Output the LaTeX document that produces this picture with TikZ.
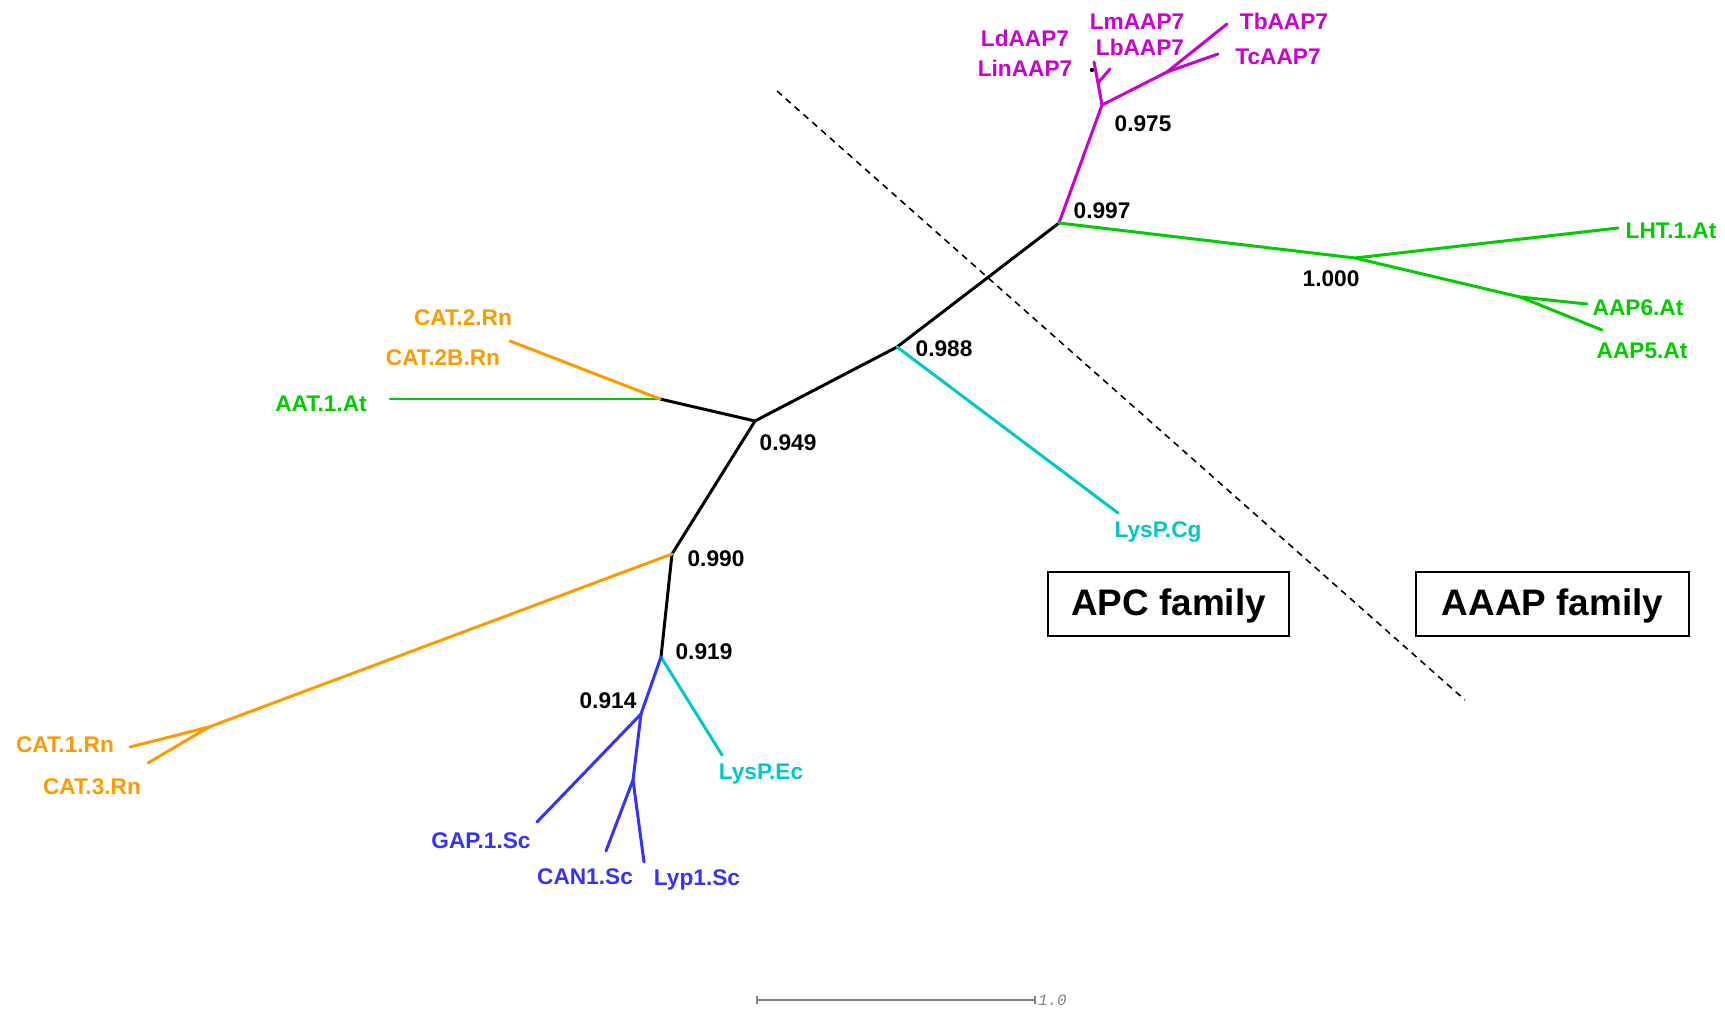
\documentclass[tikz,border=0pt]{standalone}
\usepackage{fontspec}
\setmainfont{Liberation Sans}
\setmonofont{Liberation Mono}
\definecolor{treeorange}{RGB}{255,153,0}
\definecolor{treegreen}{RGB}{0,204,0}
\definecolor{treemagenta}{RGB}{204,0,204}
\definecolor{treeblue}{RGB}{51,51,255}
\definecolor{treecyan}{RGB}{0,200,200}
\begin{document}
\begin{tikzpicture}[x=0.02cm, y=-0.02cm,
  line width=1.7pt, line cap=round,
  lbl/.style={inner sep=0pt, font=\fontsize{12.9}{14}\selectfont\bfseries},
  val/.style={lbl, text=black},
  fam/.style={draw, line width=1.1pt, minimum height=1.28cm,
    font=\fontsize{21}{24}\selectfont\bfseries}]
\useasboundingbox (0,0) rectangle (1725,1010);
% inner nodes
\coordinate (n997) at (1059,223);
\coordinate (n975) at (1102,105);
\coordinate (nLd) at (1098,83);
\coordinate (nTb) at (1167,72);
\coordinate (n1000) at (1355,258);
\coordinate (nAAP) at (1520,297);
\coordinate (n988) at (897,347);
\coordinate (n949) at (755,421);
\coordinate (nAAT) at (660,399);
\coordinate (n990) at (672,554);
\coordinate (nCAT) at (209,727);
\coordinate (n919) at (661,657);
\coordinate (n914) at (641,714);
\coordinate (nCAN) at (633,780);
% tips
\coordinate (tLd) at (1094,62);
\coordinate (tLm) at (1110,69);
\coordinate (tTb) at (1227,24);
\coordinate (tTc) at (1218,54);
\coordinate (tLHT) at (1618,228);
\coordinate (tAAP6) at (1587,304);
\coordinate (tAAP5) at (1602,330);
\coordinate (tCg) at (1118,513);
\coordinate (tAAT) at (390,399);
\coordinate (tCAT2) at (510,341);
\coordinate (tCAT1) at (130,747);
\coordinate (tCAT3) at (148,763);
\coordinate (tEc) at (722,755);
\coordinate (tGAP) at (537,822);
\coordinate (tCAN) at (606,851);
\coordinate (tLyp) at (644,862);

% branches
\draw (n997) -- (n988) -- (n949) -- (nAAT);
\draw (n949) -- (n990) -- (n919);
\draw[treemagenta] (n997) -- (n975) -- (nLd) -- (tLd);
\draw[treemagenta] (nLd) -- (tLm);
\draw[treemagenta] (n975) -- (nTb) -- (tTb);
\draw[treemagenta] (nTb) -- (tTc);
\fill (1092,70) circle (2.2);
\draw[treegreen] (n997) -- (n1000) -- (tLHT);
\draw[treegreen] (n1000) -- (nAAP) -- (tAAP6);
\draw[treegreen] (nAAP) -- (tAAP5);
\draw[treecyan] (n988) -- (tCg);
\draw[treegreen] (nAAT) -- (tAAT);
\draw[treeorange] (nAAT) -- (tCAT2);
\draw[treeorange] (n990) -- (nCAT) -- (tCAT1);
\draw[treeorange] (nCAT) -- (tCAT3);
\draw[treecyan] (n919) -- (tEc);
\draw[treeblue] (n919) -- (n914) -- (tGAP);
\draw[treeblue] (n914) -- (nCAN) -- (tCAN);
\draw[treeblue] (nCAN) -- (tLyp);

% leaf labels
\node[lbl, text=treemagenta] (LdAAP7) at (1025,38) {LdAAP7};
\node[lbl, text=treemagenta] (LinAAP7) at (1025,68) {LinAAP7};
\node[lbl, text=treemagenta] (LmAAP7) at (1137,22) {LmAAP7};
\node[lbl, text=treemagenta] (LbAAP7) at (1140,47) {LbAAP7};
\node[lbl, text=treemagenta] (TbAAP7) at (1284,21) {TbAAP7};
\node[lbl, text=treemagenta] (TcAAP7) at (1278,57) {TcAAP7};
\node[lbl, text=treegreen] (LHT) at (1671,231) {LHT.1.At};
\node[lbl, text=treegreen] (AAP6) at (1638,308) {AAP6.At};
\node[lbl, text=treegreen] (AAP5) at (1642,351) {AAP5.At};
\node[lbl, text=treecyan] (LysPCg) at (1158,532) {LysP.Cg};
\node[lbl, text=treegreen] (AAT) at (321,404) {AAT.1.At};
\node[lbl, text=treeorange] (CAT2) at (463,318) {CAT.2.Rn};
\node[lbl, text=treeorange] (CAT2B) at (443,358) {CAT.2B.Rn};
\node[lbl, text=treeorange] (CAT1) at (65,745) {CAT.1.Rn};
\node[lbl, text=treeorange] (CAT3) at (92,787) {CAT.3.Rn};
\node[lbl, text=treecyan] (LysPEc) at (761,774) {LysP.Ec};
\node[lbl, text=treeblue] (GAP) at (481,841) {GAP.1.Sc};
\node[lbl, text=treeblue] (CAN) at (585,877) {CAN1.Sc};
\node[lbl, text=treeblue] (Lyp) at (697,880) {Lyp1.Sc};

% support values
\node[val] (v975) at (1143,124) {0.975};
\node[val] (v997) at (1102,211) {0.997};
\node[val] (v1000) at (1331,279) {1.000};
\node[val] (v988) at (944,349) {0.988};
\node[val] (v949) at (788,443) {0.949};
\node[val] (v990) at (716,559) {0.990};
\node[val] (v919) at (704,652) {0.919};
\node[val] (v914) at (608,701) {0.914};

% family split
\coordinate (d1) at (777,91);
\coordinate (d2) at (1465,700);
\draw[line width=0.9pt, line cap=butt, dash pattern=on 3.7pt off 3pt] (d1) -- (d2);
\node[fam, minimum width=4.82cm, text depth=0.08cm] (apc) at (1168.5,604) {APC family};
\node[fam, minimum width=5.46cm, text depth=0.08cm] (aaap) at (1552.5,604) {AAAP family};

% scale bar
\coordinate (s1) at (757,1000);
\coordinate (s2) at (1035,1000);
\draw[gray, line width=0.75pt, line cap=butt] (s1) -- (s2)
  (757,996) -- (757,1004) (1035,996) -- (1035,1004);
\node[anchor=west, inner sep=1pt, text=gray, font=\fontsize{9}{10}\selectfont\ttfamily\itshape] (scale) at (s2) {1.0};
\end{tikzpicture}
\end{document}
